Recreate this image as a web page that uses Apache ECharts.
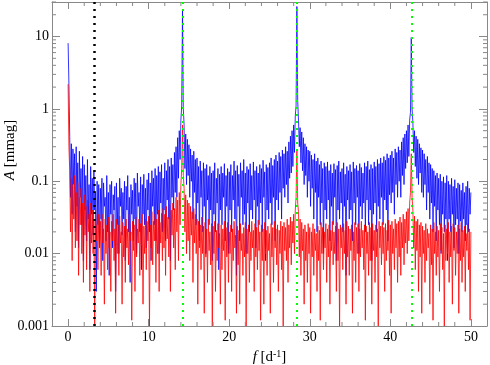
<!DOCTYPE html>
<html>
<head>
<meta charset="utf-8">
<script src="https://cdn.jsdelivr.net/npm/echarts@6/dist/echarts.min.js"></script>
<style>
html, body { margin: 0; padding: 0; background: #fff; }
#chart { width: 490px; height: 365px; }
</style>
</head>
<body>
<div id="chart"></div>
<script>
// frequency grid: 0 .. 50 d^-1, step 0.1 (10 values per line = 1 d^-1)
var fStep = 0.1

// amplitude, blue spectrum, in units of 0.001 mmag
var ampBlue = [
  8100, 2200, 420, 60, 330, 35, 280, 90, 240, 20,
  300, 45, 180, 12, 260, 60, 150, 25, 220, 8,
  170, 40, 120, 15, 200, 30, 90, 6, 160, 35,
  110, 18, 140, 40, 70, 3, 100, 25, 90, 12,
  80, 30, 110, 8, 95, 45, 60, 15, 120, 20,
  70, 5, 90, 35, 100, 12, 65, 40, 85, 3,
  95, 25, 60, 10, 110, 45, 80, 18, 70, 30,
  100, 8, 85, 40, 120, 20, 60, 4, 90, 35,
  75, 15, 110, 30, 95, 10, 130, 45, 70, 20,
  115, 6, 90, 35, 125, 25, 80, 12, 105, 40,
  130, 20, 95, 8, 140, 45, 110, 25, 150, 15,
  120, 35, 160, 10, 135, 50, 170, 20, 110, 40,
  180, 15, 140, 55, 200, 30, 160, 8, 210, 60,
  170, 40, 250, 70, 300, 60, 400, 110, 500, 200,
  700, 1100, 23000, 1000, 600, 150, 450, 90, 380, 120,
  320, 60, 280, 100, 230, 30, 260, 70, 200, 25,
  210, 50, 160, 15, 190, 60, 140, 20, 180, 45,
  150, 10, 170, 55, 120, 25, 160, 40, 130, 8,
  140, 35, 180, 20, 110, 50, 150, 6, 125, 40,
  160, 25, 130, 60, 175, 15, 120, 45, 150, 10,
  135, 40, 170, 20, 120, 55, 190, 30, 140, 5,
  165, 45, 125, 15, 180, 60, 140, 25, 200, 35,
  130, 10, 160, 50, 145, 20, 175, 40, 120, 30,
  185, 55, 140, 12, 160, 45, 130, 25, 170, 50,
  150, 20, 195, 60, 135, 8, 170, 40, 155, 30,
  180, 50, 210, 25, 165, 60, 200, 15, 230, 55,
  190, 40, 250, 70, 220, 30, 270, 80, 240, 60,
  300, 90, 260, 50, 350, 110, 420, 130, 500, 160,
  600, 250, 800, 1100, 26000, 1300, 700, 300, 550, 180,
  480, 140, 400, 90, 330, 120, 300, 60, 270, 100,
  260, 45, 230, 80, 200, 30, 240, 70, 190, 20,
  210, 60, 170, 25, 190, 50, 150, 10, 180, 40,
  160, 30, 185, 55, 140, 15, 170, 45, 130, 25,
  175, 60, 145, 8, 165, 40, 190, 30, 135, 50,
  150, 20, 180, 45, 125, 5, 160, 55, 140, 30,
  170, 40, 135, 15, 185, 50, 150, 25, 165, 60,
  140, 10, 175, 45, 155, 30, 130, 50, 180, 20,
  160, 55, 190, 25, 145, 40, 170, 8, 150, 35,
  185, 50, 160, 20, 200, 45, 175, 30, 210, 60,
  180, 25, 220, 55, 195, 40, 240, 15, 210, 65,
  230, 50, 260, 70, 210, 35, 280, 90, 250, 60,
  300, 100, 270, 60, 350, 120, 400, 90, 450, 150,
  500, 180, 600, 220, 700, 900, 9700, 1000, 650, 250,
  500, 160, 420, 110, 380, 90, 330, 130, 290, 70,
  270, 60, 240, 90, 200, 40, 220, 70, 180, 30,
  170, 50, 150, 20, 140, 45, 120, 15, 130, 40,
  110, 25, 125, 10, 100, 35, 115, 20, 95, 30,
  120, 8, 100, 30, 90, 20, 110, 35, 85, 12,
  105, 25, 80, 30, 95, 10, 90, 28, 75, 20,
  95, 30, 70, 15, 85, 25, 100, 20, 80, 35,
  70
]

// amplitude, red spectrum, in units of 0.001 mmag
var ampRed = [
  2200, 300, 140, 20, 110, 8, 90, 30, 120, 12,
  70, 15, 95, 5, 60, 25, 80, 10, 50, 4,
  65, 18, 45, 6, 55, 20, 35, 3, 50, 14,
  40, 10, 30, 1, 45, 15, 25, 6, 35, 12,
  28, 5, 35, 14, 22, 2, 30, 10, 25, 6,
  32, 12, 20, 3, 28, 15, 35, 8, 22, 1.5,
  30, 10, 25, 5, 33, 14, 20, 2, 27, 9,
  24, 4, 30, 12, 22, 7, 35, 15, 20, 1.2,
  28, 11, 25, 3, 32, 9, 22, 14, 30, 5,
  26, 13, 35, 2, 24, 10, 30, 6, 28, 15,
  33, 1, 25, 12, 38, 7, 28, 15, 35, 4,
  30, 10, 40, 3, 27, 14, 36, 8, 42, 12,
  35, 5, 45, 16, 32, 9, 48, 3, 40, 18,
  50, 12, 42, 6, 60, 20, 55, 8, 70, 25,
  90, 150, 600, 120, 80, 20, 65, 10, 55, 15,
  50, 8, 45, 18, 38, 4, 42, 14, 35, 10,
  30, 2, 28, 12, 25, 6, 32, 10, 24, 1.5,
  27, 9, 22, 4, 30, 11, 20, 7, 26, 1,
  24, 10, 28, 3, 21, 8, 26, 12, 19, 2,
  25, 6, 22, 11, 28, 1.2, 23, 9, 27, 4,
  20, 10, 25, 3, 22, 8, 28, 12, 18, 1.5,
  24, 7, 21, 2, 26, 11, 19, 5, 23, 9,
  27, 1, 22, 10, 25, 4, 20, 8, 28, 12,
  21, 3, 26, 9, 23, 6, 29, 11, 20, 1.2,
  25, 8, 22, 2, 27, 10, 21, 5, 24, 11,
  19, 1.5, 26, 9, 23, 4, 28, 12, 22, 7,
  25, 3, 21, 10, 28, 6, 24, 1, 27, 11,
  23, 8, 30, 4, 25, 12, 32, 7, 28, 14,
  35, 10, 40, 60, 270, 50, 38, 9, 30, 5,
  27, 11, 22, 2, 25, 8, 20, 4, 26, 10,
  23, 1.5, 20, 9, 26, 5, 22, 11, 19, 3,
  24, 8, 21, 1.2, 27, 10, 23, 6, 20, 12,
  26, 4, 22, 9, 25, 2, 21, 11, 28, 7,
  20, 10, 24, 3, 27, 8, 22, 1, 25, 12,
  23, 6, 26, 10, 21, 2, 28, 9, 24, 5,
  22, 11, 25, 1.5, 20, 8, 27, 4, 23, 10,
  26, 3, 22, 9, 28, 12, 21, 6, 25, 1.2,
  24, 10, 20, 5, 27, 8, 23, 2, 26, 11,
  21, 4, 25, 9, 22, 1, 28, 12, 24, 7,
  27, 10, 23, 3, 26, 8, 21, 11, 29, 5,
  25, 1.5, 28, 10, 22, 6, 30, 12, 26, 4,
  28, 9, 32, 5, 27, 12, 35, 7, 30, 14,
  38, 10, 42, 15, 50, 70, 240, 60, 40, 12,
  33, 6, 28, 11, 30, 3, 25, 9, 27, 1.5,
  24, 10, 21, 4, 26, 8, 22, 12, 19, 2,
  25, 7, 22, 1.2, 27, 10, 20, 5, 24, 9,
  21, 3, 26, 11, 23, 6, 19, 1, 25, 8,
  22, 10, 27, 4, 20, 9, 24, 2, 26, 11,
  23, 5, 20, 10, 25, 1.5, 22, 8, 27, 4,
  21, 9, 24, 3, 19, 11, 26, 6, 22, 1.2,
  20
]

// marked frequencies
var fBlack = [3.2]
var fGreen = [14.2, 28.4, 42.6]

// minor tick values
var xMinor = [2, 4, 6, 8, 12, 14, 16, 18, 22, 24, 26, 28, 32, 34, 36, 38, 42, 44, 46, 48]
var yMinor = [0.002, 0.003, 0.004, 0.005, 0.006, 0.007, 0.008, 0.009,
  0.02, 0.03, 0.04, 0.05, 0.06, 0.07, 0.08, 0.09,
  0.2, 0.3, 0.4, 0.5, 0.6, 0.7, 0.8, 0.9,
  2, 3, 4, 5, 6, 7, 8, 9, 20, 30]

var xMin = -2, xMax = 52, yMin = 0.001, yMax = 30

function pairs(arr) {
  return arr.map(function (v, i) { return [+(i * fStep).toFixed(1), v / 1000] })
}

var frame = '#888'
var font = 'Liberation Serif'

var chart = echarts.init(document.getElementById('chart'))

function tickSeries(vals, isX) {
  return {
    type: 'custom',
    coordinateSystem: 'cartesian2d',
    silent: true,
    z: 5,
    clip: false,
    data: vals.map(function (v) { return isX ? [v, yMin] : [xMin, v] }),
    renderItem: function (params, api) {
      var style = { stroke: frame, lineWidth: 1 }
      if (isX) {
        var b = api.coord([api.value(0), yMin])
        var t = api.coord([api.value(0), yMax])
        return { type: 'group', children: [
          { type: 'line', shape: { x1: b[0], y1: b[1], x2: b[0], y2: b[1] - 4 }, style: style },
          { type: 'line', shape: { x1: t[0], y1: t[1], x2: t[0], y2: t[1] + 4 }, style: style }
        ] }
      }
      var l = api.coord([xMin, api.value(1)])
      var r = api.coord([xMax, api.value(1)])
      return { type: 'group', children: [
        { type: 'line', shape: { x1: l[0], y1: l[1], x2: l[0] + 4, y2: l[1] }, style: style },
        { type: 'line', shape: { x1: r[0], y1: r[1], x2: r[0] - 4, y2: r[1] }, style: style }
      ] }
    }
  }
}

option = {
  animation: false,
  grid: { left: 52, right: 3, top: 2, bottom: 39, containLabel: false, outerBoundsMode: 'none' },
  graphic: [{
    type: 'text', x: 10, y: 150, rotation: Math.PI / 2, silent: true,
    style: {
      text: '{i|A} [mmag]', fontFamily: font, fontSize: 15, fill: '#000',
      align: 'center', verticalAlign: 'middle',
      rich: { i: { fontFamily: font, fontStyle: 'italic', fontSize: 15, fill: '#000' } }
    }
  }],
  xAxis: [
    {
      type: 'value', min: xMin, max: xMax, splitNumber: 5, minInterval: 10, maxInterval: 10,
      name: '{i|f} [d{s|-1}]', nameLocation: 'middle', nameGap: 18,
      nameTextStyle: {
        fontFamily: font, fontSize: 15, color: '#000',
        rich: {
          i: { fontFamily: font, fontStyle: 'italic', fontSize: 15, color: '#000' },
          s: { fontFamily: font, fontSize: 10, verticalAlign: 'top', padding: [0, 0, 7, 0], color: '#000' }
        }
      },
      axisLine: { show: true, onZero: false, lineStyle: { color: frame, width: 1 } },
      axisTick: { show: true, inside: true, length: 7, lineStyle: { color: frame } },
      axisLabel: { fontFamily: font, fontSize: 14, color: '#000', margin: 4, showMinLabel: false, showMaxLabel: false },
      splitLine: { show: false }
    },
    {
      type: 'value', position: 'top', min: xMin, max: xMax, splitNumber: 5, minInterval: 10, maxInterval: 10,
      axisLine: { show: true, onZero: false, lineStyle: { color: frame, width: 1 } },
      axisTick: { show: true, inside: true, length: 7, lineStyle: { color: frame } },
      axisLabel: { show: false },
      splitLine: { show: false }
    }
  ],
  yAxis: [
    {
      type: 'log', min: yMin, max: yMax, logBase: 10,
      axisLine: { show: true, onZero: false, lineStyle: { color: frame, width: 1 } },
      axisTick: { show: true, inside: true, length: 8, lineStyle: { color: frame } },
      axisLabel: {
        fontFamily: font, fontSize: 14, color: '#000', margin: 3, showMaxLabel: false,
        formatter: function (v) { return String(+v.toPrecision(3)) }
      },
      splitLine: { show: false }
    },
    {
      type: 'log', position: 'right', min: yMin, max: yMax, logBase: 10,
      axisLine: { show: true, onZero: false, lineStyle: { color: frame, width: 1 } },
      axisTick: { show: true, inside: true, length: 8, lineStyle: { color: frame } },
      axisLabel: { show: false },
      splitLine: { show: false }
    }
  ],
  series: [
    {
      name: 'blue', type: 'line', data: pairs(ampBlue),
      showSymbol: false, symbol: 'none',
      lineStyle: { color: '#0000ff', width: 0.8 },
      itemStyle: { color: '#0000ff' }, z: 2
    },
    {
      name: 'red', type: 'line', data: pairs(ampRed),
      showSymbol: false, symbol: 'none',
      lineStyle: { color: '#ff0000', width: 0.8 },
      itemStyle: { color: '#ff0000' }, z: 3,
      markLine: {
        silent: true, symbol: 'none', label: { show: false }, animation: false,
        data: fBlack.map(function (f) {
          return { xAxis: f, lineStyle: { color: '#000', type: [2, 5], width: 2.5 } }
        }).concat(fGreen.map(function (f) {
          return { xAxis: f, lineStyle: { color: '#00ff00', type: [2, 5], width: 2 } }
        }))
      }
    },
    tickSeries(xMinor, true),
    tickSeries(yMinor, false)
  ]
}
chart.setOption(option)
</script>
</body>
</html>
